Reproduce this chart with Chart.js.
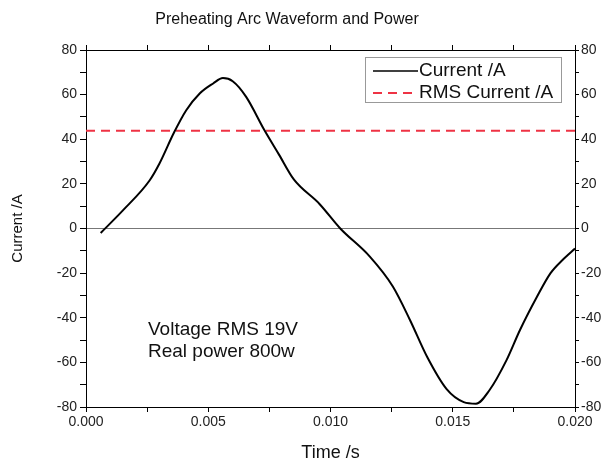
<!DOCTYPE html>
<html>
<head>
<meta charset="utf-8">
<script src="https://cdn.jsdelivr.net/npm/chart.js@4/dist/chart.umd.min.js"></script>
<style>
  html, body { margin: 0; padding: 0; background: #fff; }
  #wrap { width: 610px; height: 466px; }
</style>
</head>
<body>
<div id="wrap"><canvas id="grafico" width="610" height="466"></canvas></div>
<script>
// data
var timeS = [0.0006, 0.0015, 0.0026, 0.0030, 0.0036, 0.0041, 0.00465, 0.0052, 0.0056, 0.0060,
             0.00655, 0.0073, 0.0079, 0.0085, 0.00955, 0.0104, 0.0116, 0.01255, 0.01325, 0.01395,
             0.01475, 0.01545, 0.01595, 0.0165, 0.0172, 0.01775, 0.01845, 0.0190, 0.0195, 0.0200];
var currentA = [-2, 8, 21.5, 29, 43, 53, 60.5, 65, 67.4, 66,
                59, 44, 33, 22, 11, 0, -12.5, -26, -41, -57.5,
                -72, -77.8, -78.5, -72.5, -59, -45.5, -30.5, -20, -14, -9];
var rmsCurrent = 43.8;
var xRange = [0, 0.02];
var yRange = [-80, 80];
var noteLines = ["Voltage RMS 19V", "Real power 800w"];
var legendNames = ["Current /A", "RMS Current /A"];

var FONT = "'Liberation Sans', Arial, sans-serif";

var curvePts = timeS.map(function (t, i) { return { x: t, y: currentA[i] }; });
var rmsPts = [{ x: xRange[0], y: rmsCurrent }, { x: xRange[1], y: rmsCurrent }];

var extras = {
    id: 'extras',
    beforeDraw: function (chart) {
        var c = chart.ctx;
        c.save();
        c.fillStyle = '#fff';
        c.fillRect(0, 0, chart.width, chart.height);
        c.restore();
    },
    afterDraw: function (chart) {
        var c = chart.ctx;
        c.save();
        // title
        c.fillStyle = '#111';
        c.font = '16px ' + FONT;
        c.textAlign = 'center';
        c.textBaseline = 'alphabetic';
        c.fillText('Preheating Arc Waveform and Power', 287, 24);

        // note text
        c.textAlign = 'left';
        c.font = '19px ' + FONT;
        c.fillText(noteLines[0], 148, 335);
        c.fillText(noteLines[1], 148, 357);

        // legend box
        c.fillStyle = '#fff';
        c.fillRect(365, 57, 197, 46);
        c.strokeStyle = '#999';
        c.lineWidth = 1;
        c.strokeRect(365.5, 57.5, 196, 45);
        c.strokeStyle = '#000';
        c.lineWidth = 1.5;
        c.beginPath(); c.moveTo(373, 71); c.lineTo(418, 71); c.stroke();
        c.strokeStyle = '#ee3344';
        c.lineWidth = 2;
        c.setLineDash([9, 6]);
        c.beginPath(); c.moveTo(373, 93); c.lineTo(418, 93); c.stroke();
        c.setLineDash([]);
        c.fillStyle = '#111';
        c.font = '19px ' + FONT;
        c.textBaseline = 'middle';
        c.fillText(legendNames[0], 419, 71);
        c.fillText(legendNames[1], 419, 93);
        c.restore();
    }
};

var ctx = document.getElementById("grafico").getContext('2d');
var grafico = new Chart(ctx, {
    type: 'line',
    data: {
        datasets: [
            {
                label: legendNames[0],
                data: curvePts,
                borderColor: '#000',
                borderWidth: 2,
                pointRadius: 0,
                fill: false,
                cubicInterpolationMode: 'monotone',
                xAxisID: 'x',
                yAxisID: 'y'
            },
            {
                label: legendNames[1],
                data: rmsPts,
                borderColor: '#ee3344',
                borderWidth: 2,
                borderDash: [9, 6],
                pointRadius: 0,
                fill: false,
                xAxisID: 'x',
                yAxisID: 'y'
            }
        ]
    },
    options: {
        responsive: false,
        animation: false,
        layout: { padding: { top: 50, left: 0, right: 0, bottom: 0 } },
        plugins: {
            legend: { display: false },
            title: { display: false },
            tooltip: { enabled: false }
        },
        scales: {
            x: {
                type: 'linear',
                position: 'bottom',
                min: xRange[0],
                max: xRange[1],
                afterFit: function (s) { s.height = 59; },
                ticks: {
                    stepSize: 0.0025,
                    autoSkip: false,
                    maxRotation: 0,
                    padding: 2,
                    color: '#222',
                    font: { family: FONT, size: 14 },
                    callback: function (v) { return Math.round(v / 0.0025) % 2 === 0 ? v.toFixed(3) : ''; }
                },
                grid: { drawOnChartArea: false, tickLength: 5, tickColor: '#000' },
                border: { color: '#000', width: 1 },
                title: {
                    display: true,
                    text: 'Time /s',
                    color: '#111',
                    font: { family: FONT, size: 18 },
                    padding: { top: 0, bottom: 2 }
                }
            },
            x2: {
                type: 'linear',
                position: 'top',
                min: xRange[0],
                max: xRange[1],
                afterFit: function (s) { s.height = 0; },
                ticks: { stepSize: 0.0025, autoSkip: false, callback: function () { return ''; } },
                grid: { drawOnChartArea: false, tickLength: 5, tickColor: '#000' },
                border: { color: '#000', width: 1 }
            },
            y: {
                position: 'left',
                min: yRange[0],
                max: yRange[1],
                afterFit: function (s) { s.width = 86; },
                ticks: {
                    stepSize: 10,
                    autoSkip: false,
                    padding: 3,
                    color: '#222',
                    font: { family: FONT, size: 14 },
                    callback: function (v) { return v % 20 === 0 ? v : ''; }
                },
                grid: {
                    drawOnChartArea: true,
                    tickLength: 6,
                    tickColor: '#000',
                    color: function (c) { return c.tick && c.tick.value === 0 ? '#777' : 'rgba(0,0,0,0)'; }
                },
                border: { color: '#000', width: 1 },
                title: {
                    display: true,
                    text: 'Current /A',
                    color: '#111',
                    font: { family: FONT, size: 15 },
                    padding: { top: 9, bottom: 0 }
                }
            },
            y2: {
                position: 'right',
                min: yRange[0],
                max: yRange[1],
                afterFit: function (s) { s.width = 35; },
                ticks: {
                    stepSize: 10,
                    autoSkip: false,
                    padding: 2,
                    color: '#222',
                    font: { family: FONT, size: 14 },
                    callback: function (v) { return v % 20 === 0 ? v : ''; }
                },
                grid: { drawOnChartArea: false, tickLength: 4, tickColor: '#000' },
                border: { color: '#000', width: 1 }
            }
        }
    },
    plugins: [extras]
});
</script>
</body>
</html>
